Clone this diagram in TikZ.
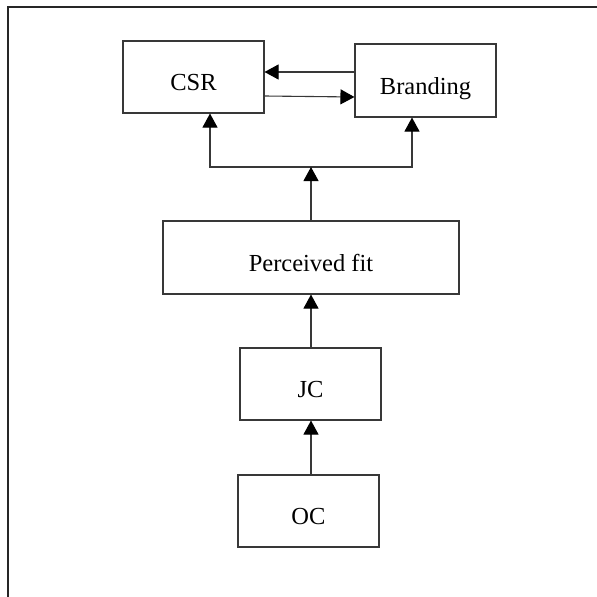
\documentclass[tikz,border=0pt]{standalone}
\usepackage{fontspec}
\setmainfont{Liberation Serif}
\usetikzlibrary{arrows.meta,calc}
\newcommand{\dnshift}[1]{\raisebox{-13.5pt}[0pt][0pt]{#1}}
\tikzset{
  boxnode/.style={draw=black!78, line width=1.1pt, inner sep=0pt, minimum width=141pt, minimum height=72pt, font=\fontsize{24.5}{28}\selectfont},
  conn/.style={draw=black!78, line width=1.1pt},
  tip/.tip={Triangle[length=14pt,width=15pt,fill=black,color=black]},
  arr/.style={conn, -tip},
  frameline/.style={draw=black!85, line width=1.5pt}
}
\begin{document}
\begin{tikzpicture}[x=1pt,y=-1pt]
\useasboundingbox (0,0) rectangle (597,597);
\draw[frameline] (8,597) -- (8,7) -- (597,7);
\node[boxnode] (CSR) at (193.5,77) {\dnshift{CSR}};
\node[boxnode, minimum height=73pt] (Branding) at (425.5,80.5) {\dnshift{Branding}};
\node[boxnode, minimum width=296pt, minimum height=73pt] (Fit) at (311,257.5) {\dnshift{Perceived fit}};
\node[boxnode] (JC) at (310.5,384) {\dnshift{JC}};
\node[boxnode] (OC) at (308.5,511) {\dnshift{OC}};
\coordinate (jl) at (210,167);
\coordinate (jr) at (412,167);
\draw[arr] ([yshift=8.5pt]Branding.west) -- ([yshift=8.5pt]Branding.west -| CSR.east);
\draw[arr] ([yshift=-19pt]CSR.east) -- ([yshift=-16.5pt]Branding.west);
\draw[conn, tip-tip] (CSR.south -| jl) -- (jl) -- (jr) -- (Branding.south -| jr);
\draw[arr] (Fit.north) -- (Fit.north |- jl);
\draw[arr] (JC.north -| Fit.south) -- (Fit.south);
\draw[arr] (OC.north -| Fit.south) -- (JC.south -| Fit.south);
\end{tikzpicture}
\end{document}
